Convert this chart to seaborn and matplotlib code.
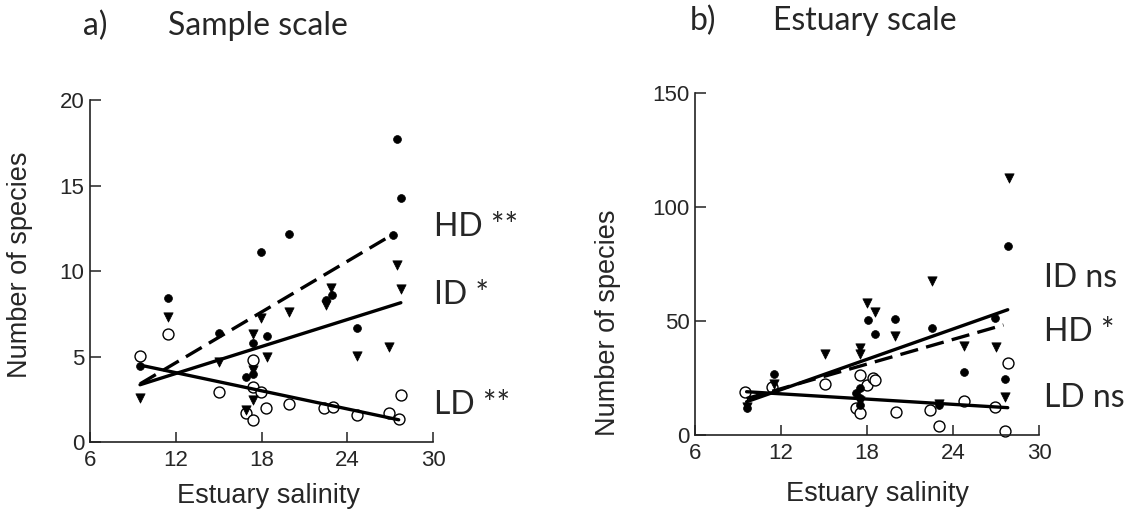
import matplotlib
matplotlib.use("Agg")
import matplotlib.pyplot as plt
import seaborn as sns

# a) sample scale -- HD filled circles, ID triangles, LD open circles
sample_hd_x = [9.5, 11.45, 15.0, 16.9, 17.4, 17.4, 17.98, 18.4, 19.95, 22.5, 22.95, 24.7, 27.2, 27.5, 27.75]
sample_hd_y = [4.45, 8.4, 6.35, 3.8, 4.0, 5.8, 11.1, 6.2, 12.15, 8.3, 8.6, 6.65, 12.1, 17.7, 14.3]
sample_id_x = [9.5, 11.45, 15.0, 16.9, 17.4, 17.4, 17.4, 17.98, 18.4, 19.95, 22.5, 22.86, 24.7, 26.93, 27.5, 27.75]
sample_id_y = [2.55, 7.3, 4.7, 1.9, 2.45, 4.2, 6.3, 7.25, 5.0, 7.6, 8.0, 9.0, 5.05, 5.55, 10.35, 8.95]
sample_ld_x = [9.5, 11.45, 15.0, 16.9, 17.4, 17.4, 17.4, 17.98, 18.3, 19.95, 22.4, 23.0, 24.7, 26.93, 27.6, 27.75]
sample_ld_y = [5.05, 6.3, 2.9, 1.7, 4.8, 3.2, 1.3, 2.9, 2.0, 2.25, 1.97, 2.07, 1.6, 1.72, 1.35, 2.75]

sample_hd_fit_x = [9.5, 27.3]
sample_hd_fit_y = [3.4, 12.2]
sample_id_fit_x = [9.5, 27.75]
sample_id_fit_y = [3.35, 8.15]
sample_ld_fit_x = [9.5, 27.6]
sample_ld_fit_y = [4.5, 1.3]

# b) estuary scale
estuary_hd_x = [9.6, 11.5, 17.2, 17.5, 17.5, 17.5, 18.09, 18.56, 19.95, 22.5, 23.0, 24.72, 26.93, 27.58, 27.79]
estuary_hd_y = [11.7, 26.8, 18.3, 20.5, 16.1, 13.0, 50.5, 44.3, 50.8, 46.8, 13.2, 27.8, 51.2, 24.4, 83.0]
estuary_id_x = [9.6, 11.5, 15.07, 17.5, 17.5, 17.5, 17.98, 18.56, 19.95, 22.51, 23.0, 24.72, 27.0, 27.58, 27.86]
estuary_id_y = [12.5, 22.4, 35.6, 38.0, 35.6, 15.0, 58.1, 54.1, 43.5, 67.6, 13.5, 39.2, 38.8, 16.8, 112.7]
estuary_ld_x = [9.49, 11.4, 15.07, 17.2, 17.5, 17.5, 18.0, 18.4, 18.56, 20.0, 22.4, 23.0, 24.72, 26.93, 27.58, 27.79]
estuary_ld_y = [18.7, 21.0, 22.4, 11.8, 26.3, 9.6, 22.0, 24.9, 24.1, 10.0, 11.0, 3.8, 15.1, 12.5, 1.8, 31.7]

estuary_hd_fit_x = [9.6, 27.5]
estuary_hd_fit_y = [16.0, 48.3]
estuary_id_fit_x = [9.6, 27.8]
estuary_id_fit_y = [14.6, 55.0]
estuary_ld_fit_x = [9.6, 27.8]
estuary_ld_fit_y = [19.0, 12.0]

x_ticks = [6, 12, 18, 24, 30]
sample_y_ticks = [0, 5, 10, 15, 20]
estuary_y_ticks = [0, 50, 100, 150]

sample_labels = ["HD **", "ID *", "LD **"]
sample_label_y = [12.6, 8.6, 2.15]
estuary_labels = ["ID ns", "HD *", "LD ns"]
estuary_label_y = [68.8, 45.3, 16.1]

sns.set_style("ticks")
plt.rcParams["font.family"] = ["Liberation Sans", "DejaVu Sans"]
plt.rcParams["xtick.direction"] = "in"
plt.rcParams["ytick.direction"] = "in"

fig = plt.figure(figsize=(11.35, 5.11), dpi=100)
ax_a = fig.add_axes([0.0793, 0.135, 0.3022, 0.669])
ax_b = fig.add_axes([0.6123, 0.1487, 0.3034, 0.6687])

DASH = (0, (5.5, 2.5))
CAL = ["Lato", "DejaVu Sans"]


def draw_panel(ax, hd, idd, ld, hd_fit, id_fit, ld_fit, ylim, yticks,
               labels, label_y, label_x, ylabel_pos, xlabel_pos):
    sns.scatterplot(x=ld[0], y=ld[1], marker="o", color="white", edgecolor="black",
                    linewidth=1.0, s=62, ax=ax, zorder=2, clip_on=False)
    sns.scatterplot(x=idd[0], y=idd[1], marker="v", color="black", edgecolor="black",
                    linewidth=0.5, s=45, ax=ax, zorder=3, clip_on=False)
    sns.scatterplot(x=hd[0], y=hd[1], marker="o", color="black", edgecolor="black",
                    linewidth=0.5, s=32, ax=ax, zorder=3, clip_on=False)
    sns.lineplot(x=hd_fit[0], y=hd_fit[1], color="black", lw=2.4, linestyle=DASH, ax=ax, zorder=4)
    sns.lineplot(x=id_fit[0], y=id_fit[1], color="black", lw=2.4, ax=ax, zorder=4)
    sns.lineplot(x=ld_fit[0], y=ld_fit[1], color="black", lw=2.4, ax=ax, zorder=4)

    ax.set_xlim(6, 30)
    ax.set_ylim(*ylim)
    ax.set_xticks(x_ticks)
    ax.set_yticks(yticks)
    ax.tick_params(axis="x", length=7, width=1.1, pad=6, labelsize=16, color="#222222")
    ax.tick_params(axis="y", length=8, width=1.1, pad=4, labelsize=16, color="#222222")
    sns.despine(ax=ax)
    for side in ["left", "bottom"]:
        ax.spines[side].set_linewidth(1.2)
        ax.spines[side].set_color("#222222")

    ax.set_xlabel("Estuary salinity", fontsize=19.5)
    ax.set_ylabel("Number of species", fontsize=19.5)
    ax.xaxis.set_label_coords(*xlabel_pos)
    ax.yaxis.set_label_coords(*ylabel_pos)

    for txt, yy in zip(labels, label_y):
        ax.text(label_x, yy, txt, fontsize=23, va="center", ha="left",
                family=CAL, clip_on=False)


draw_panel(ax_a, (sample_hd_x, sample_hd_y), (sample_id_x, sample_id_y),
           (sample_ld_x, sample_ld_y),
           (sample_hd_fit_x, sample_hd_fit_y), (sample_id_fit_x, sample_id_fit_y),
           (sample_ld_fit_x, sample_ld_fit_y),
           (0, 20), sample_y_ticks, sample_labels, sample_label_y, 30.1,
           (-0.165, 0.518), (0.519, -0.12))

draw_panel(ax_b, (estuary_hd_x, estuary_hd_y), (estuary_id_x, estuary_id_y),
           (estuary_ld_x, estuary_ld_y),
           (estuary_hd_fit_x, estuary_hd_fit_y), (estuary_id_fit_x, estuary_id_fit_y),
           (estuary_ld_fit_x, estuary_ld_fit_y),
           (0, 150), estuary_y_ticks, estuary_labels, estuary_label_y, 30.3,
           (-0.215, 0.328), (0.529, -0.135))

fig.text(83 / 1135, 1 - 35 / 511, "a)", fontsize=23, family=CAL, va="baseline")
fig.text(168 / 1135, 1 - 35 / 511, "Sample scale", fontsize=23, family=CAL, va="baseline")
fig.text(690 / 1135, 1 - 30 / 511, "b)", fontsize=23, family=CAL, va="baseline")
fig.text(773 / 1135, 1 - 30 / 511, "Estuary scale", fontsize=23, family=CAL, va="baseline")

fig.savefig("out.png", dpi=100)
